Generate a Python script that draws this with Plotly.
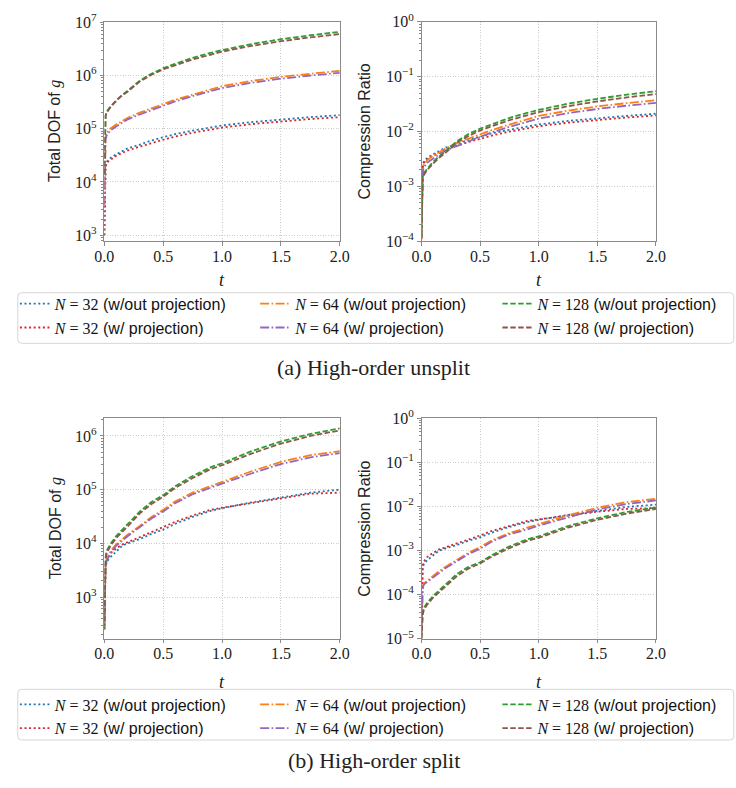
import plotly.graph_objects as go

# ---------------------------------------------------------------- data
T = [0, 0.005, 0.01, 0.02, 0.05, 0.1, 0.15, 0.2, 0.3, 0.4, 0.5,
     0.6, 0.75, 0.9, 1.0, 1.25, 1.5, 1.75, 2.0]

# (a) high-order unsplit: total DOF of g
unsplit_dof_32_wout = [1.0e3, 1.0e4, 2.0e4, 2.4e4, 2.8e4, 3.3e4, 3.8e4, 4.3e4, 5.0e4, 6.0e4, 6.9e4,
                       7.9e4, 9.2e4, 1.05e5, 1.15e5, 1.33e5, 1.5e5, 1.65e5, 1.8e5]
unsplit_dof_32_w = [1.0e3, 9.0e3, 1.9e4, 2.3e4, 2.6e4, 3.1e4, 3.5e4, 3.9e4, 4.6e4, 5.4e4, 6.2e4,
                    7.1e4, 8.4e4, 9.6e4, 1.05e5, 1.22e5, 1.38e5, 1.52e5, 1.65e5]
unsplit_dof_64_wout = [3.7e3, 5.0e4, 7.0e4, 8.3e4, 1.0e5, 1.2e5, 1.4e5, 1.6e5, 2.0e5, 2.45e5, 2.9e5,
                       3.5e5, 4.4e5, 5.5e5, 6.3e5, 7.9e5, 9.4e5, 1.08e6, 1.22e6]
unsplit_dof_64_w = [3.7e3, 4.5e4, 6.3e4, 7.5e4, 9.2e4, 1.1e5, 1.3e5, 1.5e5, 1.85e5, 2.25e5, 2.7e5,
                    3.25e5, 4.1e5, 5.1e5, 5.8e5, 7.3e5, 8.7e5, 1.0e6, 1.12e6]
unsplit_dof_128_wout = [1.4e4, 1.2e5, 1.8e5, 2.1e5, 2.6e5, 3.4e5, 4.3e5, 5.2e5, 8.0e5, 1.08e6, 1.37e6,
                        1.65e6, 2.15e6, 2.65e6, 3.0e6, 3.9e6, 4.8e6, 5.7e6, 6.6e6]
unsplit_dof_128_w = [1.4e4, 1.1e5, 1.7e5, 2.0e5, 2.5e5, 3.3e5, 4.2e5, 5.0e5, 7.7e5, 1.03e6, 1.3e6,
                     1.55e6, 2.0e6, 2.45e6, 2.8e6, 3.6e6, 4.4e6, 5.2e6, 6.0e6]

# (a) high-order unsplit: compression ratio
unsplit_cr_32_wout = [1.2e-4, 1.16e-3, 2.3e-3, 2.8e-3, 3.3e-3, 3.8e-3, 4.4e-3, 5.0e-3, 5.8e-3, 7.0e-3, 8.0e-3,
                      9.2e-3, 1.07e-2, 1.22e-2, 1.34e-2, 1.55e-2, 1.74e-2, 1.92e-2, 2.1e-2]
unsplit_cr_32_w = [1.2e-4, 1.06e-3, 2.2e-3, 2.7e-3, 3.1e-3, 3.6e-3, 4.1e-3, 4.6e-3, 5.4e-3, 6.4e-3, 7.3e-3,
                   8.4e-3, 9.9e-3, 1.13e-2, 1.24e-2, 1.44e-2, 1.62e-2, 1.79e-2, 1.95e-2]
unsplit_cr_64_wout = [1.1e-4, 1.5e-3, 2.1e-3, 2.5e-3, 3.0e-3, 3.6e-3, 4.2e-3, 4.8e-3, 6.1e-3, 7.4e-3, 8.8e-3,
                      1.06e-2, 1.33e-2, 1.67e-2, 1.91e-2, 2.39e-2, 2.85e-2, 3.27e-2, 3.7e-2]
unsplit_cr_64_w = [1.1e-4, 1.3e-3, 1.85e-3, 2.2e-3, 2.7e-3, 3.2e-3, 3.8e-3, 4.4e-3, 5.4e-3, 6.6e-3, 7.9e-3,
                   9.6e-3, 1.21e-2, 1.5e-2, 1.71e-2, 2.15e-2, 2.56e-2, 2.94e-2, 3.3e-2]
unsplit_cr_128_wout = [1.2e-4, 1.0e-3, 1.5e-3, 1.75e-3, 2.1e-3, 2.8e-3, 3.5e-3, 4.2e-3, 6.6e-3, 8.9e-3, 1.12e-2,
                       1.35e-2, 1.76e-2, 2.17e-2, 2.46e-2, 3.2e-2, 3.93e-2, 4.67e-2, 5.4e-2]
unsplit_cr_128_w = [1.1e-4, 9.0e-4, 1.35e-3, 1.6e-3, 2.0e-3, 2.6e-3, 3.3e-3, 4.0e-3, 6.2e-3, 8.2e-3, 1.04e-2,
                    1.24e-2, 1.6e-2, 1.96e-2, 2.24e-2, 2.88e-2, 3.52e-2, 4.16e-2, 4.8e-2]

# (b) high-order split: total DOF of g
split_dof_32_wout = [2.5e2, 2.5e3, 3.5e3, 4.5e3, 5.5e3, 7.0e3, 9.0e3, 1.0e4, 1.2e4, 1.5e4, 1.8e4,
                     2.3e4, 3.1e4, 4.0e4, 4.5e4, 5.8e4, 7.2e4, 8.8e4, 1.0e5]
split_dof_32_w = [3.0e2, 3.0e3, 4.0e3, 5.0e3, 6.5e3, 8.0e3, 9.5e3, 1.05e4, 1.3e4, 1.65e4, 2.0e4,
                  2.5e4, 3.3e4, 4.2e4, 4.6e4, 5.6e4, 6.8e4, 8.4e4, 8.8e4]
split_dof_64_wout = [3.0e2, 3.0e3, 4.0e3, 5.0e3, 7.0e3, 9.6e3, 1.2e4, 1.46e4, 2.1e4, 3.1e4, 4.2e4,
                     6.0e4, 8.8e4, 1.15e5, 1.4e5, 2.2e5, 3.3e5, 4.4e5, 5.2e5]
split_dof_64_w = [3.0e2, 2.8e3, 3.8e3, 4.7e3, 6.5e3, 9.0e3, 1.12e4, 1.37e4, 2.0e4, 2.9e4, 3.9e4,
                  5.6e4, 8.2e4, 1.06e5, 1.3e5, 2.0e5, 3.0e5, 4.0e5, 4.8e5]
split_dof_128_wout = [2.5e2, 4.0e3, 5.5e3, 7.3e3, 9.6e3, 1.36e4, 1.8e4, 2.3e4, 3.9e4, 5.9e4, 7.9e4,
                      1.15e5, 1.8e5, 2.6e5, 3.1e5, 5.2e5, 7.9e5, 1.09e6, 1.38e6]
split_dof_128_w = [2.5e2, 3.6e3, 5.0e3, 6.6e3, 8.8e3, 1.25e4, 1.65e4, 2.1e4, 3.6e4, 5.4e4, 7.4e4,
                   1.07e5, 1.65e5, 2.4e5, 2.85e5, 4.7e5, 7.2e5, 1.0e6, 1.27e6]

# (b) high-order split: compression ratio
split_cr_32_wout = [2.0e-5, 2.8e-4, 3.9e-4, 5.0e-4, 6.1e-4, 7.8e-4, 1.0e-3, 1.11e-3, 1.33e-3, 1.67e-3, 2.0e-3,
                    2.55e-3, 3.45e-3, 4.4e-3, 5.0e-3, 6.4e-3, 8.0e-3, 9.8e-3, 1.1e-2]
split_cr_32_w = [2.0e-5, 3.3e-4, 4.4e-4, 5.6e-4, 7.2e-4, 8.9e-4, 1.06e-3, 1.17e-3, 1.44e-3, 1.83e-3, 2.2e-3,
                 2.8e-3, 3.7e-3, 4.7e-3, 5.1e-3, 6.2e-3, 7.6e-3, 8.8e-3, 9.2e-3]
split_cr_64_wout = [1.2e-5, 1.0e-4, 1.5e-4, 1.8e-4, 2.1e-4, 2.7e-4, 3.4e-4, 4.2e-4, 6.0e-4, 8.9e-4, 1.2e-3,
                    1.7e-3, 2.5e-3, 3.3e-3, 4.0e-3, 6.3e-3, 9.4e-3, 1.26e-2, 1.49e-2]
split_cr_64_w = [1.2e-5, 9.0e-5, 1.4e-4, 1.7e-4, 1.95e-4, 2.5e-4, 3.2e-4, 3.9e-4, 5.7e-4, 8.3e-4, 1.1e-3,
                 1.6e-3, 2.35e-3, 3.0e-3, 3.7e-3, 5.7e-3, 8.6e-3, 1.14e-2, 1.37e-2]
split_cr_128_wout = [1.0e-5, 2.8e-5, 3.8e-5, 5.0e-5, 6.6e-5, 9.4e-5, 1.24e-4, 1.7e-4, 2.9e-4, 4.3e-4, 5.4e-4,
                     7.9e-4, 1.24e-3, 1.8e-3, 2.1e-3, 3.6e-3, 5.4e-3, 7.5e-3, 9.5e-3]
split_cr_128_w = [1.0e-5, 2.5e-5, 3.5e-5, 4.5e-5, 6.0e-5, 8.6e-5, 1.14e-4, 1.5e-4, 2.6e-4, 3.9e-4, 5.1e-4,
                  7.3e-4, 1.14e-3, 1.65e-3, 1.95e-3, 3.3e-3, 5.0e-3, 6.9e-3, 8.8e-3]

# series labels
RESOLUTIONS = ["32", "32", "64", "64", "128", "128"]
VARIANTS = ["w/out projection", "w/ projection"] * 3

# axis tick labels
X_TICKS = [0.0, 0.5, 1.0, 1.5, 2.0]
X_TICK_LABELS = ["0.0", "0.5", "1.0", "1.5", "2.0"]
DOF_A_EXPONENTS = [3, 4, 5, 6, 7]
CR_A_EXPONENTS = [-4, -3, -2, -1, 0]
DOF_B_EXPONENTS = [3, 4, 5, 6]
CR_B_EXPONENTS = [-5, -4, -3, -2, -1, 0]

# ---------------------------------------------------------------- style
W, H = 736, 788
SERIF = "Liberation Serif"
SANS = "Liberation Sans"
SPINE = "#8a8a8a"
GRID = "#cccccc"
TEXT = "#222222"

COLORS = ["#1f77b4", "#d62728", "#ff7f0e", "#9467bd", "#2ca02c", "#8c564b"]
DASHES = ["2px,2.6px", "2px,2.6px",
          "9px,2.4px,1.6px,2.4px", "9px,2.4px,1.6px,2.4px",
          "5.5px,2.4px", "5.5px,2.4px"]


def fx(px):
    return px / W


def fy(py):
    return 1 - py / H


def power_label(e):
    sign = "\u2212" if e < 0 else ""
    return f"10<sup>{sign}{abs(e)}</sup>"


def legend_label(res, variant):
    return (f'<span style="font-family:{SERIF}"><i>N</i> = {res}</span>'
            f' ({variant})')


def x_axis(domain, anchor):
    return dict(
        domain=domain, anchor=anchor, range=[0, 2],
        tickmode="array", tickvals=X_TICKS, ticktext=X_TICK_LABELS,
        showline=True, mirror=True, linecolor=SPINE, linewidth=1,
        ticks="outside", ticklen=3.5, tickwidth=1, tickcolor=SPINE,
        ticklabelstandoff=-3,
        showgrid=True, gridcolor=GRID, griddash="1px,1.6px", gridwidth=0.8,
        zeroline=False, tickfont=dict(family=SERIF, size=16, color=TEXT),
    )


def y_axis(domain, anchor, rng, exps):
    lo, hi = int(rng[0]) - 1, int(rng[1]) + 1
    minor_vals = [k * 10.0 ** e for e in range(lo, hi + 1) for k in range(2, 10)]
    return dict(
        domain=domain, anchor=anchor, type="log", range=rng,
        tickmode="array", tickvals=[10.0 ** e for e in exps],
        ticktext=[power_label(e) for e in exps],
        showline=True, mirror=True, linecolor=SPINE, linewidth=1,
        ticks="outside", ticklen=3.5, tickwidth=1, tickcolor=SPINE,
        showgrid=True, gridcolor=GRID, griddash="1px,1.6px", gridwidth=0.8,
        zeroline=False, tickfont=dict(family=SERIF, size=16, color=TEXT),
        minor=dict(tickmode="array", tickvals=minor_vals, ticks="outside",
                   ticklen=2, tickwidth=0.8, tickcolor=SPINE, showgrid=False),
    )


fig = go.Figure()

panels = [
    ("x", "y", [unsplit_dof_32_wout, unsplit_dof_32_w, unsplit_dof_64_wout,
                unsplit_dof_64_w, unsplit_dof_128_wout, unsplit_dof_128_w], ["legend", "legend2", "legend3"]),
    ("x2", "y2", [unsplit_cr_32_wout, unsplit_cr_32_w, unsplit_cr_64_wout,
                  unsplit_cr_64_w, unsplit_cr_128_wout, unsplit_cr_128_w], None),
    ("x3", "y3", [split_dof_32_wout, split_dof_32_w, split_dof_64_wout,
                  split_dof_64_w, split_dof_128_wout, split_dof_128_w], ["legend4", "legend5", "legend6"]),
    ("x4", "y4", [split_cr_32_wout, split_cr_32_w, split_cr_64_wout,
                  split_cr_64_w, split_cr_128_wout, split_cr_128_w], None),
]

for xa, ya, series, legends in panels:
    for i, vals in enumerate(series):
        fig.add_trace(go.Scatter(
            x=T, y=vals, mode="lines", xaxis=xa, yaxis=ya,
            line=dict(color=COLORS[i], width=1.8, dash=DASHES[i]),
            name=legend_label(RESOLUTIONS[i], VARIANTS[i]),
            showlegend=legends is not None,
            legend=legends[i // 2] if legends else None,
            hoverinfo="skip",
        ))

# subplot geometry (pixels -> paper fractions)
XL = [fx(97), fx(339)]
XR = [fx(423), fx(664)]
YT = [fy(236), fy(11)]
YB = [fy(644), fy(418)]

legend_common = dict(
    orientation="v", xanchor="left", yanchor="top",
    bgcolor="rgba(0,0,0,0)", borderwidth=0, itemwidth=30,
    tracegroupgap=0, traceorder="normal",
    font=dict(family=SANS, size=16, color="#111111"),
)
legend_cols = [5, 252, 501]

layout_legends = {}
for k, name in enumerate(["legend", "legend2", "legend3"]):
    layout_legends[name] = dict(legend_common, x=fx(legend_cols[k]), y=fy(283))
for k, name in enumerate(["legend4", "legend5", "legend6"]):
    layout_legends[name] = dict(legend_common, x=fx(legend_cols[k]), y=fy(694))


def rounded_box(x0, y0, x1, y1, r=4):
    p = (f"M {fx(x0 + r)} {fy(y0)} L {fx(x1 - r)} {fy(y0)} "
         f"Q {fx(x1)} {fy(y0)} {fx(x1)} {fy(y0 + r)} L {fx(x1)} {fy(y1 - r)} "
         f"Q {fx(x1)} {fy(y1)} {fx(x1 - r)} {fy(y1)} L {fx(x0 + r)} {fy(y1)} "
         f"Q {fx(x0)} {fy(y1)} {fx(x0)} {fy(y1 - r)} L {fx(x0)} {fy(y0 + r)} "
         f"Q {fx(x0)} {fy(y0)} {fx(x0 + r)} {fy(y0)} Z")
    return dict(type="path", xref="paper", yref="paper", path=p,
                line=dict(color="#d6d6d6", width=1), fillcolor="white",
                layer="below")


def text_note(text, x, y, size, family, angle=0):
    return dict(text=text, x=fx(x), y=fy(y), xref="paper", yref="paper",
                showarrow=False, xanchor="center", yanchor="middle",
                textangle=angle, font=dict(family=family, size=size, color=TEXT))


dof_title = f'Total DOF of <span style="font-family:{SERIF}"><i>g</i></span>'
t_title = "<i>t</i>"

annotations = [
    text_note(dof_title, 47, 123.5, 16, SANS, -90),
    text_note("Compression Ratio", 364, 123.5, 16, SANS, -90),
    text_note(dof_title, 47, 531, 16, SANS, -90),
    text_note("Compression Ratio", 364, 531, 16, SANS, -90),
    text_note(t_title, 218, 276, 18, SERIF),
    text_note(t_title, 543.5, 276, 18, SERIF),
    text_note(t_title, 218, 688, 18, SERIF),
    text_note(t_title, 543.5, 688, 18, SERIF),
    text_note("(a) High-order unsplit", 374, 366, 22, SERIF),
    text_note("(b) High-order split", 374, 769, 22, SERIF),
]

fig.update_layout(
    width=W, height=H,
    margin=dict(l=0, r=0, t=0, b=0),
    paper_bgcolor="white", plot_bgcolor="white",
    xaxis=x_axis(XL, "y"), yaxis=y_axis(YT, "x", [2.89, 7.01], DOF_A_EXPONENTS),
    xaxis2=x_axis(XR, "y2"), yaxis2=y_axis(YT, "x2", [-4, 0], CR_A_EXPONENTS),
    xaxis3=x_axis(XL, "y3"), yaxis3=y_axis(YB, "x3", [2.225, 6.327], DOF_B_EXPONENTS),
    xaxis4=x_axis(XR, "y4"), yaxis4=y_axis(YB, "x4", [-5, 0], CR_B_EXPONENTS),
    shapes=[rounded_box(8, 289, 744, 341), rounded_box(8, 696, 744, 748)],
    annotations=annotations,
    showlegend=True,
    **layout_legends,
)

fig.write_html("out.html")
